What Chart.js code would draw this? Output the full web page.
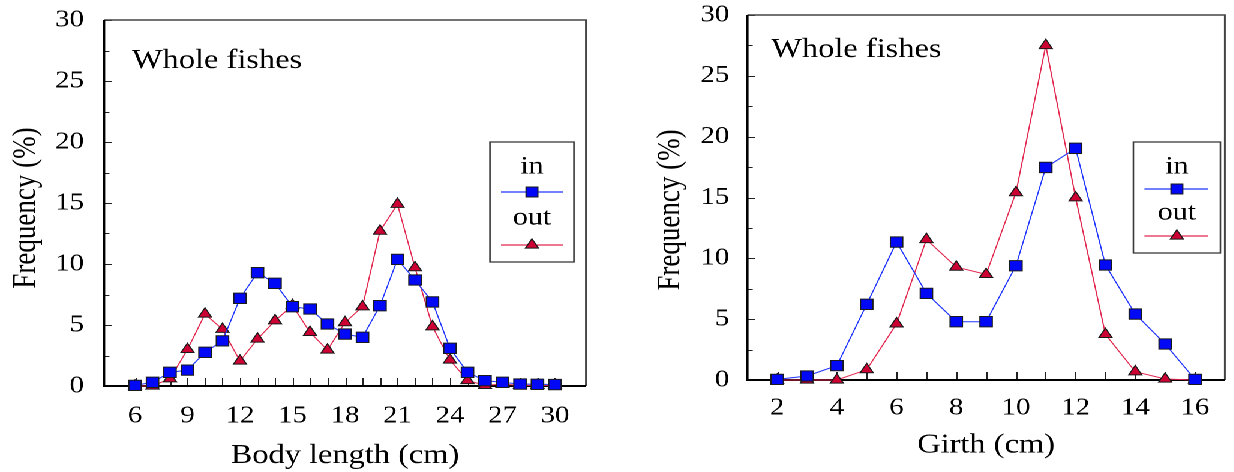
<!DOCTYPE html>
<html>
<head>
<meta charset="utf-8">
<script src="https://cdn.jsdelivr.net/npm/chart.js@4/dist/chart.umd.min.js"></script>
<style>
html, body { margin: 0; padding: 0; background: #fff; overflow: hidden; width: 1234px; height: 472px; }
#stage { position: absolute; left: 0; top: 0; width: 1029px; height: 472px; transform: scaleX(1.2); transform-origin: 0 0; }
#boxL { position: absolute; left: 0; top: 0; width: 517px; height: 472px; }
#boxR { position: absolute; left: 516.67px; top: 0; width: 512px; height: 472px; }
</style>
</head>
<body>
<div id="stage">
  <div id="boxL"><canvas id="cL"></canvas></div>
  <div id="boxR"><canvas id="cR"></canvas></div>
</div>
<script>
// ---------- data ----------
const lengthCm  = [6, 7, 8, 9, 10, 11, 12, 13, 14, 15, 16, 17, 18, 19, 20, 21, 22, 23, 24, 25, 26, 27, 28, 29, 30];
const lengthIn  = [0.05, 0.3, 1.12, 1.3, 2.76, 3.7, 7.19, 9.29, 8.42, 6.5, 6.31, 5.08, 4.26, 3.99, 6.58, 10.38, 8.69, 6.89, 3.09, 1.12, 0.44, 0.3, 0.16, 0.14, 0.12];
const lengthOut = [0.0, 0.0, 0.6, 3.0, 5.9, 4.65, 2.05, 3.85, 5.35, 6.6, 4.4, 2.95, 5.2, 6.5, 12.7, 14.9, 9.7, 4.86, 2.13, 0.45, 0.05, 0.15, 0.05, 0.05, 0.05];
const lengthTicks = [6, 9, 12, 15, 18, 21, 24, 27, 30];

const girthCm  = [2, 3, 4, 5, 6, 7, 8, 9, 10, 11, 12, 13, 14, 15, 16];
const girthIn  = [0.05, 0.33, 1.18, 6.22, 11.34, 7.12, 4.79, 4.79, 9.39, 17.47, 19.04, 9.45, 5.42, 2.96, 0.05];
const girthOut = [0.0, 0.0, 0.0, 0.85, 4.62, 11.55, 9.28, 8.68, 15.4, 27.5, 14.98, 3.75, 0.68, 0.08, 0.0];
const girthTicks = [2, 4, 6, 8, 10, 12, 14, 16];

const freqTicks = [0, 5, 10, 15, 20, 25, 30];
const freqMinor = freqTicks.slice(1).map((v, i) => (v + freqTicks[i]) / 2);

const seriesNames = ['in', 'out'];
const cornerLabel = 'Whole fishes';
const yTitle = 'Frequency (%)';
const xTitleL = 'Body length (cm)';
const xTitleR = 'Girth (cm)';

// ---------- styles ----------
const FONT = "'Liberation Serif', 'Times New Roman', serif";
const BLUE_LINE = '#1f35ff';
const BLUE_FILL = '#0008f5';
const RED_LINE = '#e3284f';
const RED_FILL = '#cc0033';
const MARK_BORDER = '#1a1a1a';

function drawMarker(ctx, style, r, x, y, fill) {
  ctx.save();
  ctx.fillStyle = fill;
  ctx.strokeStyle = MARK_BORDER;
  ctx.lineWidth = 1;
  ctx.beginPath();
  if (style === 'rect') {
    const s = r * Math.SQRT1_2;
    ctx.rect(x - s, y - s, 2 * s, 2 * s);
  } else {
    ctx.moveTo(x, y - r);
    ctx.lineTo(x + r * Math.sin(Math.PI / 3), y + r / 2);
    ctx.lineTo(x - r * Math.sin(Math.PI / 3), y + r / 2);
    ctx.closePath();
  }
  ctx.fill();
  ctx.stroke();
  ctx.restore();
}

const decor = {
  id: 'decor',
  beforeDatasetsDraw(chart, args, o) {
    const { ctx, chartArea: a, scales: { x, y } } = chart;
    ctx.save();
    ctx.strokeStyle = '#222';
    ctx.lineWidth = 1;
    ctx.beginPath();
    freqTicks.forEach(v => { const p = Math.round(y.getPixelForValue(v)) + 0.5; ctx.moveTo(a.left, p); ctx.lineTo(a.left + 6.5, p); });
    freqMinor.forEach(v => { const p = Math.round(y.getPixelForValue(v)) + 0.5; ctx.moveTo(a.left, p); ctx.lineTo(a.left + 4.5, p); });
    o.xMarks.forEach(v => { const p = Math.round(x.getPixelForValue(v)) + 0.5; ctx.moveTo(p, a.bottom); ctx.lineTo(p, a.bottom - 8); });
    ctx.stroke();
    // frame: top / right
    ctx.strokeStyle = '#444';
    ctx.lineWidth = 1.5;
    ctx.beginPath();
    ctx.moveTo(a.left, a.top); ctx.lineTo(a.right, a.top); ctx.lineTo(a.right, a.bottom);
    ctx.stroke();
    // frame: left / bottom
    ctx.strokeStyle = '#000';
    ctx.lineWidth = 2;
    ctx.beginPath();
    ctx.moveTo(a.left, a.top); ctx.lineTo(a.left, a.bottom); ctx.lineTo(a.right, a.bottom);
    ctx.stroke();
    ctx.restore();
  },
  afterDraw(chart, args, o) {
    const { ctx } = chart;
    ctx.save();
    ctx.fillStyle = '#000';
    // corner label
    ctx.font = '27px ' + FONT;
    ctx.textAlign = 'left';
    ctx.textBaseline = 'middle';
    ctx.fillText(cornerLabel, o.corner.x, o.corner.y);
    // y title
    ctx.save();
    ctx.translate(o.ytitle.x, o.ytitle.y);
    ctx.rotate(-Math.PI / 2);
    ctx.font = '27px ' + FONT;
    ctx.textAlign = 'center';
    ctx.textBaseline = 'middle';
    ctx.fillText(yTitle, 0, 0);
    ctx.restore();
    // legend
    const L = o.legend;
    ctx.fillStyle = '#fff';
    ctx.fillRect(L.x, L.y, L.w, L.h);
    ctx.strokeStyle = '#3a3a3a';
    ctx.lineWidth = 1.3;
    ctx.strokeRect(L.x, L.y, L.w, L.h);
    ctx.font = '25px ' + FONT;
    ctx.textAlign = 'center';
    ctx.textBaseline = 'middle';
    ctx.fillStyle = '#000';
    ctx.fillText(seriesNames[0], L.cx, L.inY);
    ctx.fillText(seriesNames[1], L.cx, L.outY);
    ctx.lineWidth = 1.2;
    ctx.strokeStyle = BLUE_LINE;
    ctx.beginPath(); ctx.moveTo(L.x1, L.inLine); ctx.lineTo(L.x2, L.inLine); ctx.stroke();
    ctx.strokeStyle = RED_LINE;
    ctx.beginPath(); ctx.moveTo(L.x1, L.outLine); ctx.lineTo(L.x2, L.outLine); ctx.stroke();
    drawMarker(ctx, 'rect', 7, L.cx, L.inLine, BLUE_FILL);
    drawMarker(ctx, 'triangle', 6.3, L.cx, L.outLine, RED_FILL);
    ctx.restore();
  }
};

function makeChart(canvasId, cats, vin, vout, tickVals, xmin, xmax, xTitle, geo) {
  const ctx = document.getElementById(canvasId);
  return new Chart(ctx, {
    type: 'line',
    data: {
      datasets: [
        {
          label: seriesNames[0],
          data: cats.map((c, i) => ({ x: c, y: vin[i] })),
          borderColor: BLUE_LINE, borderWidth: 1,
          pointStyle: 'rect', pointRadius: 7.3, pointBackgroundColor: BLUE_FILL,
          pointBorderColor: MARK_BORDER, pointBorderWidth: 1,
          tension: 0, clip: false
        },
        {
          label: seriesNames[1],
          data: cats.map((c, i) => ({ x: c, y: vout[i] })),
          borderColor: RED_LINE, borderWidth: 1,
          pointStyle: 'triangle', pointRadius: 6.3, pointBackgroundColor: RED_FILL,
          pointBorderColor: MARK_BORDER, pointBorderWidth: 1,
          tension: 0, clip: false
        }
      ]
    },
    options: {
      responsive: true,
      maintainAspectRatio: false,
      animation: false,
      devicePixelRatio: 2,
      layout: { padding: { left: 0, top: geo.top, right: geo.padRight, bottom: 0 } },
      scales: {
        x: {
          type: 'linear', min: xmin, max: xmax,
          afterBuildTicks: s => { s.ticks = tickVals.map(v => ({ value: v })); },
          afterFit: s => { s.height = geo.xAxisH; s.paddingLeft = 0; s.paddingRight = 0; },
          grid: { display: false, drawTicks: false },
          border: { display: false },
          ticks: { autoSkip: false, maxRotation: 0, padding: geo.xTickPad, color: '#000', font: { family: FONT, size: 24 }, callback: v => String(v) },
          title: { display: true, text: xTitle, color: '#000', font: { family: FONT, size: 27 }, padding: { top: 0, bottom: geo.xTitlePad } }
        },
        y: {
          type: 'linear', min: 0, max: 30,
          afterBuildTicks: s => { s.ticks = freqTicks.map(v => ({ value: v })); },
          afterFit: s => { s.width = geo.yAxisW; s.paddingTop = 0; s.paddingBottom = 0; },
          grid: { display: false, drawTicks: false },
          border: { display: false },
          ticks: { padding: geo.yTickPad, color: '#000', font: { family: FONT, size: 24 }, callback: v => String(v) }
        }
      },
      plugins: {
        legend: { display: false },
        tooltip: { enabled: false },
        decor: {
          xMarks: cats,
          corner: geo.corner,
          ytitle: geo.ytitle,
          legend: geo.legend
        }
      }
    },
    plugins: [decor]
  });
}

makeChart('cL', lengthCm, lengthIn, lengthOut, lengthTicks, 4.23, 31.77, xTitleL, {
  top: 20, padRight: 28.7, xAxisH: 86, yAxisW: 86.7, xTickPad: 16, yTickPad: 16.7, xTitlePad: 0,
  corner: { x: 110, y: 61 },
  ytitle: { x: 21.7, y: 208 },
  legend: { x: 408.3, y: 142, w: 70, h: 120, cx: 443.3, inY: 167, inLine: 192, outY: 218, outLine: 245, x1: 417.5, x2: 469.2 }
});

makeChart('cR', girthCm, girthIn, girthOut, girthTicks, 1.0, 17.0, xTitleR, {
  top: 15, padRight: 2.8, xAxisH: 92, yAxisW: 105.8, xTickPad: 14, yTickPad: 15, xTitlePad: 10.5,
  corner: { x: 125.8, y: 50 },
  ytitle: { x: 41.7, y: 210 },
  legend: { x: 427.5, y: 142, w: 72.5, h: 111, cx: 463.75, inY: 167, inLine: 189, outY: 213, outLine: 236, x1: 436.7, x2: 490 }
});
</script>
</body>
</html>
